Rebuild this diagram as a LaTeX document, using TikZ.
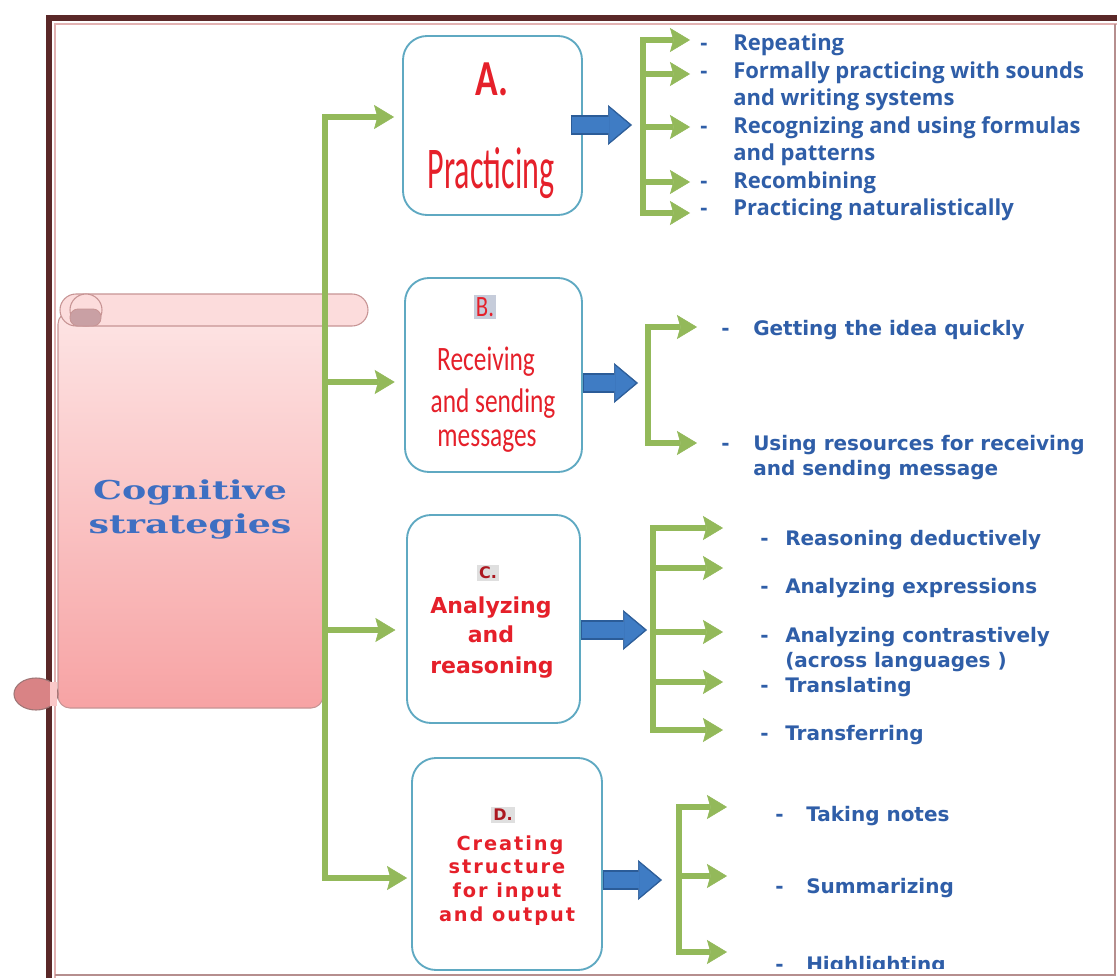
\documentclass[tikz,border=0pt]{standalone}
\usepackage{fontspec}
\usepackage{graphicx}
\setmainfont{Carlito}
\newfontfamily\osans{Open Sans}
\newfontfamily\dvs{DejaVu Sans}
\newfontfamily\dvsls{DejaVu Sans}[LetterSpace=10]
\newfontfamily\dvserif{DejaVu Serif}
\usetikzlibrary{arrows.meta}
\definecolor{gr}{HTML}{93B95A}
\definecolor{bfill}{HTML}{3F7CC4}
\definecolor{bdraw}{HTML}{2B5C98}
\definecolor{boxc}{HTML}{5FA9C2}
\definecolor{redt}{HTML}{E5202A}
\definecolor{bluet}{HTML}{2F5EA8}
\definecolor{frameBrown}{HTML}{5A2828}
\definecolor{framePink}{HTML}{E2B2B2}
\definecolor{scLine}{HTML}{C79494}
\definecolor{scTop}{HTML}{FCDCDC}
\definecolor{scA}{HTML}{FDE4E4}
\definecolor{scB}{HTML}{F7A3A4}
\definecolor{curlTop}{HTML}{C9A0A4}
\definecolor{curlBot}{HTML}{D98385}
\definecolor{cogblue}{HTML}{3E6FC2}
\definecolor{shadowBlue}{HTML}{C6CCDA}
\tikzset{
  gline/.style={draw=gr, line width=3.8pt},
  garrow/.style={gline, -{Stealth[width=18pt,length=15pt,inset=2.5pt,line width=0.4pt]}},
  bout/.style={draw=bdraw, line width=14.5pt, -{Triangle[width=30pt,length=18pt,line width=0.4pt]}},
  bin/.style={draw=bfill, line width=12pt, -{Triangle[width=26pt,length=15.5pt,line width=0.4pt]}, shorten >=1.7pt, shorten <=1pt},
  bx/.style={draw=boxc, line width=1.4pt, fill=white, rounded corners=18pt},
  redcal/.style={text=redt, inner sep=0pt, font=\fontsize{19}{19}\selectfont},
  redver/.style={text=redt, inner sep=0pt, font=\dvs\bfseries\fontsize{16.5}{16.5}\selectfont},
  redsp/.style={text=redt, inner sep=0pt, font=\dvsls\bfseries\fontsize{14.5}{14.5}\selectfont},
  letr/.style={inner sep=1.5pt, text=redt!75!black, font=\dvs\bfseries\fontsize{12}{12}\selectfont},
  itemA/.style={anchor=base west, inner sep=0pt, text=bluet, font=\osans\bfseries\fontsize{16.5}{16.5}\selectfont},
  itemV/.style={anchor=base west, inner sep=0pt, text=bluet, font=\dvs\bfseries\fontsize{15}{15}\selectfont},
  cogt/.style={inner sep=0pt, text=cogblue, font=\dvserif\bfseries\fontsize{19.5}{19.5}\selectfont}
}
\begin{document}
\begin{tikzpicture}[x=0.75pt,y=-0.75pt]
\useasboundingbox (0,0) rectangle (1117,978);
\fill[white] (0,0) rectangle (1117,978);
% frame
\draw[framePink, line width=1.2pt] (55,978) -- (55,24) -- (1117,24);
\draw[framePink!80!black, line width=1.2pt] (1115,24) -- (1115,975) -- (55,975);
\draw[frameBrown, line width=4.5pt] (49,978) -- (49,18) -- (1117,18);
% scroll
\draw[scLine, line width=0.8pt, top color=scA, bottom color=scB, rounded corners=9pt]
  (58,312) -- (58,708) -- (323,708) -- (323,312) -- cycle;
\draw[scLine, line width=0.8pt, fill=scTop, rounded corners=12pt] (60,294) rectangle (368,326);
\draw[scLine, line width=0.8pt, fill=scTop] (86,310) circle[radius=12pt];
\draw[scLine, line width=0.6pt, fill=curlTop, rounded corners=6pt] (70,309) rectangle (101,326);
\draw[scLine!80!black, line width=0.8pt, fill=curlBot] (36,694) ellipse[x radius=16.5pt, y radius=12pt];
\fill[scB!60!white] (50,682) rectangle (57,706);
\node[cogt] (cog1) at (190,493) {\scalebox{1.4}[1]{Cognitive}};
\node[cogt] (cog2) at (190,527) {\scalebox{1.4}[1]{strategies}};
% boxes
\node[bx, minimum width=134.25pt, minimum height=134.25pt] (A) at (492.5,125.5) {};
\node[bx, minimum width=132.75pt, minimum height=145.5pt] (B) at (493.5,375) {};
\node[bx, minimum width=129.75pt, minimum height=156pt] (C) at (493.5,619) {};
\node[bx, minimum width=142.5pt, minimum height=159pt] (D) at (507,864) {};
% box texts
\node[text=redt, inner sep=0pt, font=\bfseries\fontsize{28}{28}\selectfont] (At) at (492,79) {\scalebox{1}[1.35]{A.}};
\node[redcal, anchor=base, font=\fontsize{24}{24}\selectfont] (Ap) at (491,188) {\scalebox{1}[1.85]{Practicing}};
\node[inner sep=1.5pt, fill=shadowBlue, text=redt, font=\fontsize{17}{17}\selectfont] (Bt) at (485,307) {\scalebox{1}[1.3]{B.}};
\node[redcal, anchor=base] (B1) at (486,370) {\scalebox{1}[1.35]{Receiving}};
\node[redcal, anchor=base] (B2) at (493,412) {\scalebox{1}[1.35]{and sending}};
\node[redcal, anchor=base] (B3) at (487,446) {\scalebox{1}[1.35]{messages}};
\node[letr, fill=gray!25] (Ct) at (488,573) {C.};
\node[redver, anchor=base] (C1) at (491,613) {Analyzing};
\node[redver, anchor=base] (C2) at (491,642) {and};
\node[redver, anchor=base] (C3) at (492,673) {reasoning};
\node[letr, fill=gray!25] (Dt) at (503,815) {D.};
\node[redsp, anchor=base] (D1) at (510,850) {Creating};
\node[redsp, anchor=base] (D2) at (507,873) {structure};
\node[redsp, anchor=base] (D3) at (507,897) {for input};
\node[redsp, anchor=base] (D4) at (507,921) {and output};
% trunk
\draw[garrow, shorten >=6pt] (325,630) -- (325,117) -- (A.west |- 0,117);
\draw[garrow, shorten >=3pt] (325,630) -- (325,878) -- (D.west |- 0,878);
\draw[garrow, shorten >=7pt] (325,382) -- (B.west |- 0,382);
\draw[garrow, shorten >=8pt] (325,630) -- (C.west |- 0,630);
% blue arrows
\coordinate (eA) at (632,125);
\coordinate (eB) at (638,383);
\coordinate (eC) at (647,630);
\coordinate (eD) at (662,880);
\draw[bout] ([xshift=-9pt]A.east |- eA) -- (eA);
\draw[bin] ([xshift=-9pt]A.east |- eA) -- (eA);
\draw[bout] (B.east |- eB) -- (eB);
\draw[bin] (B.east |- eB) -- (eB);
\draw[bout] (C.east |- eC) -- (eC);
\draw[bin] (C.east |- eC) -- (eC);
\draw[bout] (D.east |- eD) -- (eD);
\draw[bin] (D.east |- eD) -- (eD);
% branch A
\draw[garrow] (643,127) -- (643,40) -- (690,40);
\draw[garrow] (643,127) -- (643,213) -- (690,213);
\foreach \y in {74,127,182} \draw[garrow] (643,\y) -- (690,\y);
% branch B
\draw[garrow] (648,383) -- (648,327) -- (697,327);
\draw[garrow] (648,383) -- (648,443) -- (697,443);
% branch C
\draw[garrow] (653,632) -- (653,528) -- (723,528);
\draw[garrow] (653,632) -- (653,730) -- (723,730);
\foreach \y in {568,632,682} \draw[garrow] (653,\y) -- (723,\y);
% branch D
\draw[garrow] (679,876) -- (679,807) -- (727,807);
\draw[garrow] (679,876) -- (679,952) -- (727,952);
\draw[garrow] (679,876) -- (727,876);
% items A
\node[itemA] (a1) at (700,50) {\makebox[24.75pt][l]{-}Repeating};
\node[itemA] (a2) at (700,78) {\makebox[24.75pt][l]{-}Formally practicing with sounds};
\node[itemA] (a2b) at (733,105) {and writing systems};
\node[itemA] (a3) at (700,133) {\makebox[24.75pt][l]{-}Recognizing and using formulas};
\node[itemA] (a3b) at (733,160) {and patterns};
\node[itemA] (a4) at (700,188) {\makebox[24.75pt][l]{-}Recombining};
\node[itemA] (a5) at (700,215) {\makebox[24.75pt][l]{-}Practicing naturalistically};
% items B
\node[itemV] (b1) at (721,335) {\makebox[24pt][l]{-}Getting the idea quickly};
\node[itemV] (b2) at (721,450) {\makebox[24pt][l]{-}Using resources for receiving};
\node[itemV] (b2b) at (753,475) {and sending message};
% items C
\node[itemV] (c1) at (760,545) {\makebox[18.75pt][l]{-}Reasoning deductively};
\node[itemV] (c2) at (760,593) {\makebox[18.75pt][l]{-}Analyzing expressions};
\node[itemV] (c3) at (760,642) {\makebox[18.75pt][l]{-}Analyzing contrastively};
\node[itemV] (c3b) at (785,667) {(across languages )};
\node[itemV] (c4) at (760,692) {\makebox[18.75pt][l]{-}Translating};
\node[itemV] (c5) at (760,740) {\makebox[18.75pt][l]{-}Transferring};
% items D
\node[itemV] (d1) at (775,821) {\makebox[23.25pt][l]{-}Taking notes};
\node[itemV] (d2) at (775,893) {\makebox[23.25pt][l]{-}Summarizing};
\begin{scope}
\clip (0,0) rectangle (1117,968);
\node[itemV] (d3) at (775,971) {\makebox[23.25pt][l]{-}Highlighting};
\end{scope}
\end{tikzpicture}
\end{document}
